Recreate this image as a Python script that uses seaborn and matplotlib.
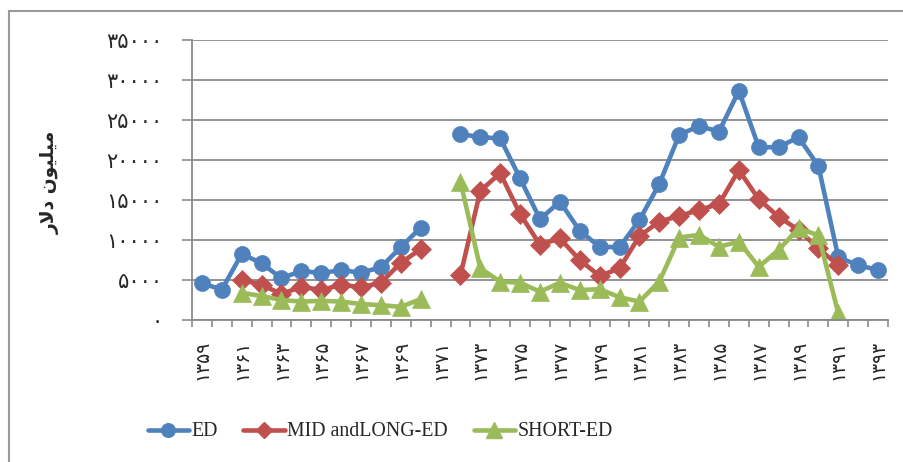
import numpy as np
import pandas as pd
import matplotlib
matplotlib.use("Agg")
import matplotlib.pyplot as plt
from matplotlib.lines import Line2D
from matplotlib.patches import Rectangle
import seaborn as sns

nan = np.nan

# Years (Solar Hijri calendar)
years = list(range(1359, 1394))

# External debt, million dollars
ed = [4600, 3800, 8250, 7100, 5200, 6150, 5850, 6250, 5900, 6600, 9100, 11550,
      nan,
      23250, 22850, 22700, 17700, 12600, 14800, 11150, 9150, 9100, 12500, 17000,
      23150, 24250, 23550, 28650, 21600, 21600, 22850, 19250, 7850, 6850, 6250]
mid_long = [nan, nan, 5000, 4400, 3250, 4150, 3750, 4400, 4100, 4650, 7150, 8850,
            nan,
            5600, 16150, 18350, 13250, 9400, 10200, 7500, 5500, 6450, 10500, 12300,
            13000, 13750, 14500, 18750, 15100, 12900, 11250, 8950, 6850, nan, nan]
short = [nan, nan, 3400, 3000, 2500, 2300, 2400, 2300, 2000, 1850, 1650, 2600,
         nan,
         17300, 6450, 4800, 4650, 3550, 4650, 3750, 3850, 2850, 2300, 4800,
         10300, 10650, 9150, 9800, 6650, 8750, 11450, 10600, 850, nan, nan]

series_names = ["ED", "MID andLONG-ED", "SHORT-ED"]
series_values = [ed, mid_long, short]
colors = ["#4F81BD", "#C0504D", "#9BBB59"]
markers = ["o", "D", "^"]
marker_sizes = [11.5, 10, 13]

y_ticks = [0, 5000, 10000, 15000, 20000, 25000, 30000, 35000]

PERSIAN = str.maketrans("0123456789", "\u06f0\u06f1\u06f2\u06f3\u06f4\u06f5\u06f6\u06f7\u06f8\u06f9")


def fa(n):
    return str(n).translate(PERSIAN)


sns.set_theme(style="white")
plt.rcParams["font.family"] = ["DejaVu Sans"]

W, H = 904, 462
fig = plt.figure(figsize=(W / 100, H / 100), dpi=100)
ax = fig.add_axes([192 / W, (H - 320) / H, (888 - 192) / W, 280 / H])

x_idx = np.arange(len(years))
grid_color = "#8a8a8a"

for name, vals, c, m, ms in zip(series_names, series_values, colors, markers, marker_sizes):
    v = np.array(vals, dtype=float)
    seg = np.cumsum(np.isnan(v))
    df = pd.DataFrame({"x": x_idx, "value": v, "seg": seg}).dropna()
    sns.lineplot(data=df, x="x", y="value", units="seg", estimator=None,
                 color=c, marker=m, markersize=ms, markeredgecolor=c,
                 markeredgewidth=0.5, linewidth=3.3, ax=ax, legend=False)

ax.set_xlim(-0.5, len(years) - 0.5)
ax.set_ylim(0, 35000)

# horizontal gridlines
ax.set_yticks(y_ticks)
ax.set_yticklabels([fa(t) for t in y_ticks], fontsize=15)
ax.yaxis.grid(True, color=grid_color, linewidth=1.3)
ax.xaxis.grid(False)
ax.set_axisbelow(True)
ax.tick_params(axis="y", length=7, width=1.2, color=grid_color, pad=14, left=True)

# category boundary ticks and labels on every other year
ax.set_xticks(np.arange(-0.5, len(years), 1))
ax.set_xticklabels([])
ax.set_xticks(x_idx[::2], minor=True)
ax.set_xticklabels([fa(y) for y in years[::2]], minor=True, rotation=90,
                   fontsize=13.5, va="top", ha="center")
ax.tick_params(axis="x", which="major", length=5, width=1.2, color=grid_color,
               bottom=True)
ax.tick_params(axis="x", which="minor", length=0, pad=14)

for s in ["top", "right"]:
    ax.spines[s].set_visible(False)
for s in ["left", "bottom"]:
    ax.spines[s].set_color(grid_color)
    ax.spines[s].set_linewidth(1.3)

ax.set_xlabel("")
ax.set_ylabel("")

# y axis title, shaped Persian text in visual order
fig.text(50 / W, (H - 182) / H,
         "\ufead\ufefb\ufea9 \ufee5\ufeee\ufef4\ufee0\ufef4\ufee3",
         rotation=90, ha="center", va="center", fontsize=13.5, fontweight="bold")

# legend
handles = [Line2D([], [], color=c, marker=m, markersize=ms * 0.85,
                  markeredgecolor=c, linewidth=3.3)
           for c, m, ms in zip(colors, markers, marker_sizes)]
fig.legend(handles, series_names, loc="center",
           bbox_to_anchor=(380 / W, (H - 432) / H), ncol=3, frameon=False,
           prop={"family": "Liberation Serif", "size": 14.3},
           handlelength=2.1, handletextpad=0.1, columnspacing=1.3)

# chart area border
fig.patches.append(Rectangle((9 / W, -0.1), 2, (H - 11) / H + 0.1,
                             transform=fig.transFigure, fill=False,
                             edgecolor="#9a9a9a", linewidth=1.5))

fig.savefig("out.png", dpi=100)
